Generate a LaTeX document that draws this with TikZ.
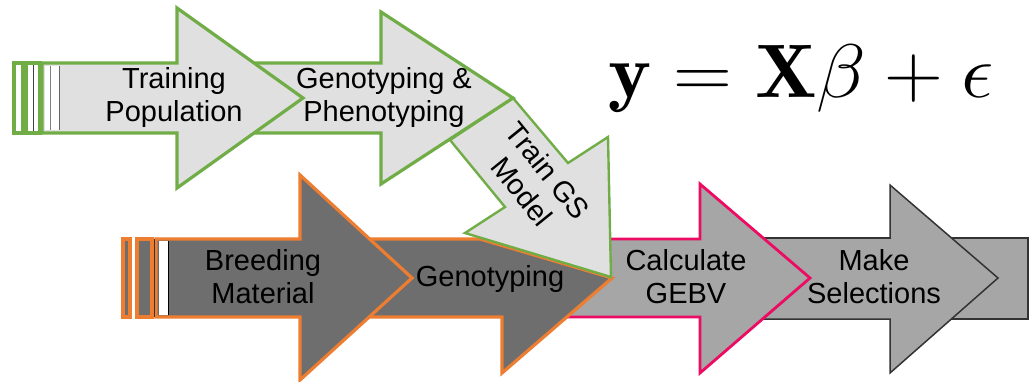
\documentclass[tikz,border=0pt]{standalone}
\usepackage{amsmath}
\usepackage{fontspec}
\setsansfont{Liberation Sans}
\usepackage{tikz}
\usetikzlibrary{positioning}

\definecolor{tgreen}{RGB}{112,173,71}
\definecolor{borange}{RGB}{237,125,49}
\definecolor{gpink}{RGB}{236,12,100}
\definecolor{lightfill}{RGB}{224,224,224}
\definecolor{darkfill}{RGB}{110,110,110}
\definecolor{midfill}{RGB}{166,166,166}

\begin{document}
\begin{tikzpicture}[x=1pt, y=-1pt,
  trainarrow/.style={draw=tgreen, line width=3.2pt, fill=lightfill},
  breedarrow/.style={draw=borange, line width=3.2pt, fill=darkfill},
  gebvarrow/.style={draw=gpink, line width=2.8pt, fill=midfill},
  selarrow/.style={draw=black!80, line width=1.5pt, fill=midfill},
  steptext/.style={font=\sffamily\fontsize{29}{33}\selectfont, align=center, inner sep=0pt}]
\useasboundingbox (0,0) rectangle (1035,381);

% Make Selections, body runs on past the tip
\draw[selarrow] (750,238) rectangle (1028,319);
\draw[selarrow] (750,238) -- (890,238) -- (890,185) -- (998,278) -- (890,373) -- (890,319) -- (750,319) -- cycle;

% Calculate GEBV
\draw[gebvarrow] (560,239) -- (700,239) -- (700,184) -- (810,278) -- (700,373) -- (700,317) -- (560,317) -- cycle;

% Genotyping, cut along the Train GS arrow
\draw[breedarrow] (360,239) -- (480,239) -- (612,278) -- (502,373) -- (502,317) -- (360,317) -- cycle;

% Breeding material with stripes
\draw[breedarrow] (156,239) -- (300,239) -- (300,175) -- (412,278) -- (300,380) -- (300,317) -- (156,317) -- cycle;
\fill[white] (159,241) rectangle (168,315);
\draw[black, line width=0.8pt] (168,241) -- (168,315);
\draw[breedarrow] (123,239) rectangle (130,317);
\draw[breedarrow] (137,239) rectangle (152,317);
\draw[black!80, line width=0.8pt] (154,239) -- (154,317);

% Train GS model
\draw[trainarrow, line width=2.4pt] (513,98) -- (568,163) -- (608,137) -- (611,277) -- (465,233) -- (505,207) -- (450,140) -- cycle;

% Genotyping & phenotyping
\draw[trainarrow] (240,63) -- (381,63) -- (381,12) -- (513,98) -- (381,184) -- (381,133) -- (240,133) -- cycle;

% Training population with stripes
\draw[trainarrow] (42,63) -- (177,63) -- (177,8) -- (303,98) -- (177,188) -- (177,133) -- (42,133) -- cycle;
\fill[white] (45,66) rectangle (60,130);
\draw[gray, line width=0.7pt] (50,66) -- (50,130);
\draw[gray!80!black, line width=0.7pt] (59,66) -- (59,130);
\draw[trainarrow, fill=white] (14,63) rectangle (23,133);
\draw[trainarrow, fill=white] (26,63) rectangle (40,133);
\draw[gray!50!black, line width=0.8pt] (33,65) -- (33,131);

% Labels
\node[steptext] (trainpop) at (174,97) {Training\\Population};
\node[steptext] (genophen) at (384,97) {Genotyping \&\\Phenotyping};
\node[steptext, rotate=-51] (trainmodel) at (535,181) {Train GS\\Model};
\node[steptext] (breedmat) at (263,277) {Breeding\\Material};
\node[steptext] (genotype) at (490,279) {Genotyping};
\node[steptext] (calcgebv) at (686,277) {Calculate\\GEBV};
\node[steptext] (makesel) at (874,277) {Make\\Selections};

% Model
\node[font=\Huge, xscale=3.28, yscale=3.05, transform shape, anchor=base, inner sep=0pt] (model) at (801,97) {$\mathbf{y} = \mathbf{X}\beta + \epsilon$};
\end{tikzpicture}
\end{document}
